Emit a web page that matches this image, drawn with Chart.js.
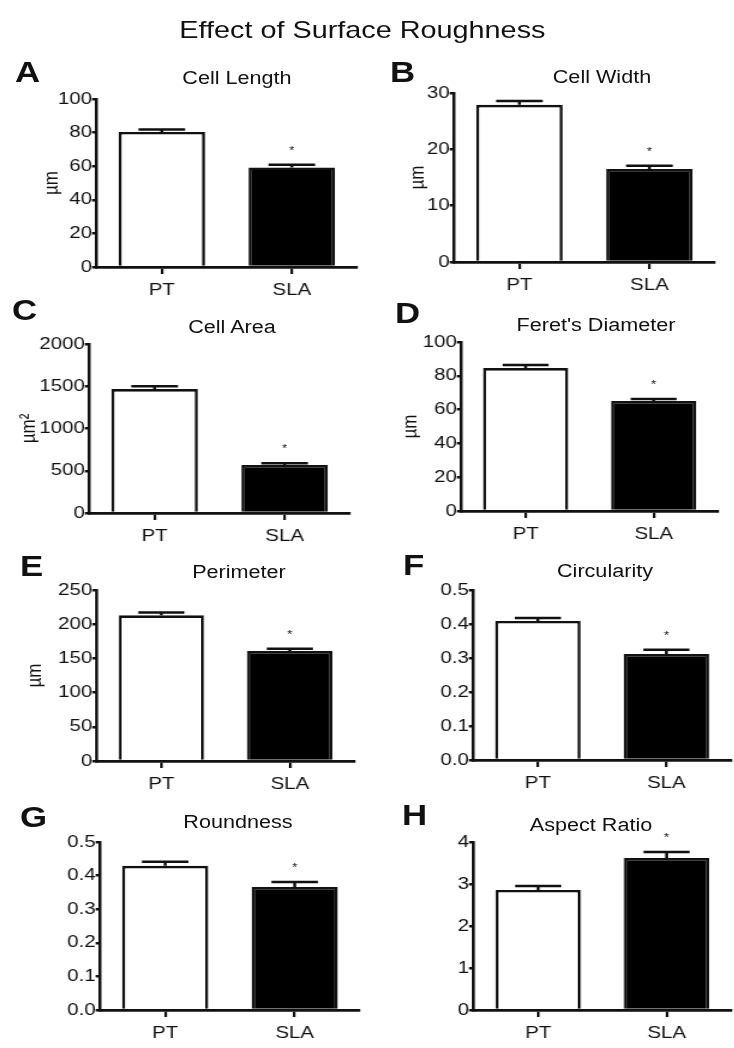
<!DOCTYPE html>
<html>
<head>
<meta charset="utf-8">
<script src="https://cdn.jsdelivr.net/npm/chart.js@4.4.1/dist/chart.umd.min.js"></script>
<style>
  html, body { margin: 0; padding: 0; background: #fff; }
  body { width: 734px; height: 1048px; overflow: hidden; position: relative; }
  /* the reference figure is stretched sideways, so the whole page is too */
  #page { position: absolute; left: 0; top: 0; width: 612px; height: 1048px;
          transform: scaleX(1.2); transform-origin: 0 0;
          font-family: 'Liberation Sans', Arial, sans-serif; color: #111; }
  #mainTitle { position: absolute; left: -4px; width: 612px; top: 30px; transform: translateY(-50%);
               text-align: center; font-size: 24px; line-height: 1; }
  .letter { position: absolute; transform: translateY(-50%); font-weight: bold; font-size: 29px; line-height: 1; }
  .sub { position: absolute; transform: translate(-50%, -50%); font-size: 18px; line-height: 1; white-space: nowrap; }
  .box { position: absolute; }
</style>
</head>
<body>
<div id="page">
  <div id="mainTitle">Effect of Surface Roughness</div>
</div>
<script>
const S = 1.2;
const FONT = "'Liberation Sans', Arial, sans-serif";

const categories = ['PT', 'SLA'];
const significant = [false, true];

const lengthMean = [80.4, 59.3];
const lengthSem = [1.5, 1.6];
const lengthTicks = [0, 20, 40, 60, 80, 100];

const widthMean = [27.9, 16.5];
const widthSem = [0.7, 0.6];
const widthTicks = [0, 10, 20, 30];

const areaMean = [1467, 568];
const areaSem = [33, 20];
const areaTicks = [0, 500, 1000, 1500, 2000];

const feretMean = [84.6, 65.1];
const feretSem = [1.8, 1.2];
const feretTicks = [0, 20, 40, 60, 80, 100];

const perimeterMean = [213, 161];
const perimeterSem = [4, 3];
const perimeterTicks = [0, 50, 100, 150, 200, 250];

const circularityMean = [0.409, 0.312];
const circularitySem = [0.009, 0.012];
const circularityTicks = [0, 0.1, 0.2, 0.3, 0.4, 0.5];

const roundnessMean = [0.429, 0.366];
const roundnessSem = [0.012, 0.015];
const roundnessTicks = [0, 0.1, 0.2, 0.3, 0.4, 0.5];

const aspectMean = [2.86, 3.62];
const aspectSem = [0.09, 0.14];
const aspectTicks = [0, 1, 2, 3, 4];

// layout in reference pixels: axis x, top of axis, zero line, right end, label offsets
const panels = [
  { letter: 'A', title: 'Cell Length', unit: 'µm', mean: lengthMean, sem: lengthSem, ticks: lengthTicks, dec: 0,
    ax: 97, top: 99, zero: 267, right: 357, unitOff: 45, tx: 237, ty: 78, lx: 15, ly: 72 },
  { letter: 'B', title: 'Cell Width', unit: 'µm', mean: widthMean, sem: widthSem, ticks: widthTicks, dec: 0,
    ax: 454, top: 93, zero: 262, right: 714, unitOff: 36, tx: 602, ty: 77, lx: 390, ly: 72 },
  { letter: 'C', title: 'Cell Area', unit: 'µm²', mean: areaMean, sem: areaSem, ticks: areaTicks, dec: 0,
    ax: 90, top: 344, zero: 513, right: 350, unitOff: 60, tx: 232, ty: 327, lx: 12, ly: 310 },
  { letter: 'D', title: "Feret's Diameter", unit: 'µm', mean: feretMean, sem: feretSem, ticks: feretTicks, dec: 0,
    ax: 461, top: 342, zero: 511, right: 717, unitOff: 51, tx: 596, ty: 325, lx: 395, ly: 313 },
  { letter: 'E', title: 'Perimeter', unit: 'µm', mean: perimeterMean, sem: perimeterSem, ticks: perimeterTicks, dec: 0,
    ax: 97, top: 590, zero: 761, right: 353, unitOff: 62, tx: 239, ty: 572, lx: 20, ly: 566 },
  { letter: 'F', title: 'Circularity', unit: '', mean: circularityMean, sem: circularitySem, ticks: circularityTicks, dec: 1,
    ax: 473, top: 590, zero: 760, right: 730, unitOff: 0, tx: 605, ty: 571, lx: 403, ly: 565 },
  { letter: 'G', title: 'Roundness', unit: '', mean: roundnessMean, sem: roundnessSem, ticks: roundnessTicks, dec: 1,
    ax: 100, top: 842, zero: 1010, right: 359, unitOff: 0, tx: 238, ty: 822, lx: 20, ly: 817 },
  { letter: 'H', title: 'Aspect Ratio', unit: '', mean: aspectMean, sem: aspectSem, ticks: aspectTicks, dec: 0,
    ax: 474, top: 842, zero: 1010, right: 730, unitOff: 0, tx: 591, ty: 825, lx: 402, ly: 815 }
];

// upper error bars + significance star
const errorBars = {
  id: 'errorBars',
  afterDatasetsDraw(chart) {
    const ctx = chart.ctx;
    const y = chart.scales.y;
    const ds = chart.data.datasets[0];
    const meta = chart.getDatasetMeta(0);
    ctx.save();
    ctx.strokeStyle = '#111';
    ctx.fillStyle = '#111';
    ctx.lineWidth = 2.5;
    meta.data.forEach((bar, i) => {
      const top = y.getPixelForValue(ds.data[i] + ds.sem[i]);
      const half = bar.width * 0.27;
      ctx.beginPath();
      ctx.moveTo(bar.x, bar.y);
      ctx.lineTo(bar.x, top);
      ctx.moveTo(bar.x - half, top);
      ctx.lineTo(bar.x + half, top);
      ctx.stroke();
      if (significant[i]) {
        ctx.font = '11px ' + FONT;
        ctx.textAlign = 'center';
        ctx.textBaseline = 'middle';
        ctx.fillText('*', bar.x, top - 14);
      }
    });
    ctx.restore();
  }
};

const page = document.getElementById('page');
const LEFT = 80, PADTOP = 20, XH = 40, PADR = 8;

panels.forEach(p => {
  const letter = document.createElement('div');
  letter.className = 'letter';
  letter.textContent = p.letter;
  letter.style.left = (p.lx / S) + 'px';
  letter.style.top = p.ly + 'px';
  page.appendChild(letter);

  const sub = document.createElement('div');
  sub.className = 'sub';
  sub.textContent = p.title;
  sub.style.left = (p.tx / S) + 'px';
  sub.style.top = p.ty + 'px';
  page.appendChild(sub);

  const box = document.createElement('div');
  box.className = 'box';
  box.style.left = ((p.ax - LEFT) / S) + 'px';
  box.style.top = (p.top - PADTOP) + 'px';
  box.style.width = ((p.right - p.ax + LEFT + PADR) / S) + 'px';
  box.style.height = (p.zero - p.top + PADTOP + XH) + 'px';
  const canvas = document.createElement('canvas');
  box.appendChild(canvas);
  page.appendChild(box);

  const ticks = p.ticks;
  const lineH = 17 * 1.2;
  new Chart(canvas.getContext('2d'), {
    type: 'bar',
    data: {
      labels: categories,
      datasets: [{
        data: p.mean,
        sem: p.sem,
        backgroundColor: ['#ffffff', '#000000'],
        borderColor: '#111',
        borderWidth: 2.6,
        barPercentage: 0.665,
        categoryPercentage: 1
      }]
    },
    options: {
      responsive: true,
      maintainAspectRatio: false,
      animation: false,
      layout: { padding: { top: PADTOP, right: PADR / S, bottom: 0, left: 0 } },
      plugins: { legend: { display: false }, tooltip: { enabled: false } },
      scales: {
        x: {
          offset: true,
          afterFit: s => { s.height = XH; },
          grid: { offset: false, drawOnChartArea: false, drawTicks: true, tickLength: 7, color: '#111', lineWidth: 2.2 },
          border: { color: '#111', width: 2.8 },
          ticks: { color: '#111', font: { family: FONT, size: 17 }, padding: 6 }
        },
        y: {
          min: ticks[0],
          max: ticks[ticks.length - 1],
          afterBuildTicks: s => { s.ticks = ticks.map(v => ({ value: v })); },
          afterFit: s => { s.width = LEFT / S; },
          grid: { drawOnChartArea: false, drawTicks: true, tickLength: 4, color: '#111', lineWidth: 2.5 },
          border: { color: '#111', width: 2.5 },
          ticks: { color: '#111', font: { family: FONT, size: 17 }, padding: 0,
                   callback: v => Number(v).toFixed(p.dec) },
          title: {
            display: p.unit !== '',
            text: p.unit,
            color: '#111',
            font: { family: FONT, size: 17 },
            padding: { top: Math.max(0, (LEFT - p.unitOff) / S - lineH / 2), bottom: 0 }
          }
        }
      }
    },
    plugins: [errorBars]
  });
});
</script>
</body>
</html>
